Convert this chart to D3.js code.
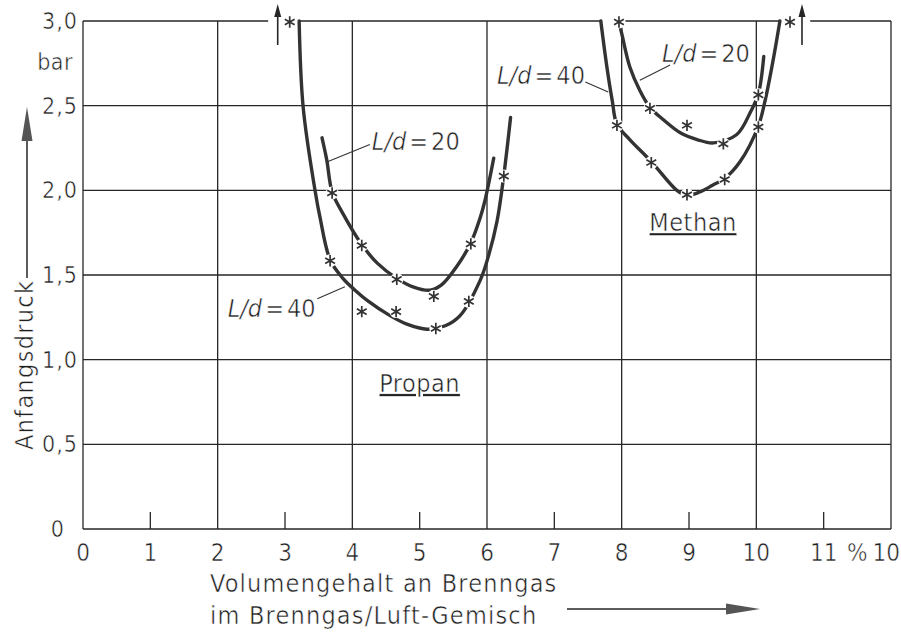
<!DOCTYPE html>
<html>
<head>
<meta charset="utf-8">
<script src="https://cdn.jsdelivr.net/npm/d3@7"></script>
<style>
  body { margin: 0; background: #fff; }
  text { font-family: "DejaVu Sans Condensed", "DejaVu Sans", sans-serif; fill: #1e1e1e;
         stroke: #fff; stroke-width: 0.5px; }
  .grid line, .frame line { stroke: #262626; stroke-width: 1.3; }
  .curve { fill: none; stroke: #333; stroke-width: 3.4; stroke-linecap: round; }
  .star { fill: none; stroke: #333; stroke-width: 1.7; }
  .leader { stroke: #333; stroke-width: 1.1; }
</style>
</head>
<body>
<div id="chart"></div>
<script>
// x: Volumengehalt an Brenngas (%), y: Anfangsdruck (bar)
var xTicks = [0,1,2,3,4,5,6,7,8,9,10,11,12];
var xTickLabels = ["0","1","2","3","4","5","6","7","8","9","10","11","10"];
var xGrid = [2,4,6,8,10];
var xMinor = [1,3,5,7,9,11];
var yTicks = [0,0.5,1,1.5,2,2.5,3];
var yTickLabels = ["0","0,5","1,0","1,5","2,0","2,5","3,0"];
var yGrid = [0.5,1,1.5,2,2.5];

// curves
var propan40 = [[3.21,3.0],[3.27,2.49],[3.45,1.99],[3.52,1.84],[3.67,1.59],[3.86,1.48],[4.04,1.41],
                [4.22,1.35],[4.56,1.26],[4.81,1.21],[5.11,1.18],[5.38,1.20],[5.60,1.26],[5.90,1.47],
                [6.02,1.61],[6.15,1.82],[6.25,2.09],[6.35,2.43]];
var propan20 = [[3.55,2.31],[3.62,2.18],[3.70,1.99],[3.85,1.87],[4.14,1.68],[4.37,1.57],[4.66,1.48],
                [4.90,1.43],[5.15,1.41],[5.32,1.44],[5.55,1.55],[5.76,1.69],[5.90,1.84],[5.97,1.94],[6.10,2.19]];
var methan40 = [[7.69,3.0],[7.78,2.73],[7.86,2.53],[7.93,2.39],[8.12,2.30],[8.44,2.17],[8.82,2.00],
                [8.97,1.97],[9.16,1.99],[9.35,2.03],[9.53,2.07],[9.76,2.17],[10.03,2.38],[10.13,2.53],
                [10.25,2.77],[10.35,3.0]];
var methan20 = [[7.97,2.98],[8.01,2.91],[8.12,2.73],[8.27,2.59],[8.42,2.49],[8.61,2.42],[8.87,2.34],
                [9.12,2.30],[9.36,2.28],[9.71,2.33],[9.91,2.46],[10.03,2.57],[10.11,2.79]];

// measured points (asterisks)
var propan40Pts = [[3.67,1.59],[4.14,1.29],[4.65,1.29],[5.24,1.19],[5.73,1.35],[6.25,2.09]];
var propan20Pts = [[3.70,1.99],[4.14,1.68],[4.66,1.48],[5.21,1.38],[5.76,1.69]];
var methan40Pts = [[7.93,2.39],[8.44,2.17],[8.97,1.98],[9.53,2.07],[10.03,2.38]];
var methan20Pts = [[7.96,3.0],[8.42,2.49],[8.97,2.39],[9.51,2.28],[10.03,2.57]];
// points above 3 bar, marked with an arrow
var offScale = [{x: 3.07, side: -1}, {x: 10.50, side: 1}];

var W = 901, H = 632;
var x = d3.scaleLinear().domain([0, 12]).range([83, 891]);
var y = d3.scaleLinear().domain([0, 3]).range([529, 21]);

var svg = d3.select("#chart").append("svg")
    .attr("width", W).attr("height", H);
svg.append("rect").attr("width", W).attr("height", H).attr("fill", "#fff");

// grid
var grid = svg.append("g").attr("class", "grid");
grid.selectAll(".v").data(xGrid).enter().append("line")
    .attr("x1", d => x(d)).attr("x2", d => x(d))
    .attr("y1", y(0)).attr("y2", y(3));
grid.selectAll(".h").data(yGrid).enter().append("line")
    .attr("x1", x(0)).attr("x2", x(12))
    .attr("y1", d => y(d)).attr("y2", d => y(d));
grid.selectAll(".m").data(xMinor).enter().append("line")
    .attr("x1", d => x(d)).attr("x2", d => x(d))
    .attr("y1", y(0)).attr("y2", y(0) - 17);

// frame, top edge broken where the curves leave the chart
var topGaps = [[2.75, 3.21], [7.71, 8.05], [10.35, 10.80]];
var topSegs = [];
var s = 0;
topGaps.forEach(g => { topSegs.push([s, g[0]]); s = g[1]; });
topSegs.push([s, 12]);
var frame = svg.append("g").attr("class", "frame");
frame.append("line").attr("x1", x(0)).attr("x2", x(0)).attr("y1", y(0)).attr("y2", y(3));
frame.append("line").attr("x1", x(12)).attr("x2", x(12)).attr("y1", y(0)).attr("y2", y(3));
frame.append("line").attr("x1", x(0)).attr("x2", x(12)).attr("y1", y(0)).attr("y2", y(0));
frame.selectAll(".t").data(topSegs).enter().append("line")
    .attr("x1", d => x(d[0])).attr("x2", d => x(d[1]))
    .attr("y1", y(3)).attr("y2", y(3));

// curves
var line = d3.line()
    .x(d => x(d[0])).y(d => y(d[1]))
    .curve(d3.curveCatmullRom.alpha(0.5));
[propan40, propan20, methan40, methan20].forEach(c => {
  svg.append("path").attr("class", "curve").attr("d", line(c));
});

// asterisks with a small white gap in the line
var star = d3.symbol().type(d3.symbolAsterisk).size(90);
var allPts = propan40Pts.concat(propan20Pts, methan40Pts, methan20Pts,
                                offScale.map(o => [o.x, 3.0]));
svg.append("g").selectAll("circle").data(allPts).enter().append("circle")
    .attr("cx", d => x(d[0])).attr("cy", d => y(d[1]) + 1).attr("r", 6.5)
    .attr("fill", "#fff");
svg.append("g").selectAll("path").data(allPts).enter().append("path")
    .attr("class", "star")
    .attr("transform", d => "translate(" + x(d[0]) + "," + (y(d[1]) + 1) + ")")
    .attr("d", star);

// up arrows for values above the scale
offScale.forEach(o => {
  var ax = x(o.x) + o.side * 12;
  svg.append("line").attr("x1", ax).attr("x2", ax).attr("y1", 45).attr("y2", 12)
      .attr("stroke", "#262626").attr("stroke-width", 1.6);
  svg.append("path")
      .attr("d", "M" + ax + ",4 L" + (ax - 3.5) + ",17 L" + (ax + 3.5) + ",17 Z")
      .attr("fill", "#262626");
});

// labels L/d with leaders
var ldLabels = [
  {x: 4.29, y: 2.24, v: "20", lx1: 4.26, ly1: 2.27, lx2: 3.64, ly2: 2.17},
  {x: 2.15, y: 1.25, v: "40", lx1: 3.48, ly1: 1.36, lx2: 3.89, ly2: 1.43},
  {x: 6.15, y: 2.63, v: "40", lx1: 7.46, ly1: 2.64, lx2: 7.80, ly2: 2.58},
  {x: 8.60, y: 2.76, v: "20", lx1: 8.72, ly1: 2.74, lx2: 8.27, ly2: 2.65}
];
ldLabels.forEach(l => {
  var t = svg.append("text").attr("x", x(l.x)).attr("y", y(l.y))
      .style("font-size", "25px");
  t.append("tspan").style("font-style", "italic").text("L/d");
  t.append("tspan").attr("dx", 3).text("=");
  t.append("tspan").attr("dx", 3).text(l.v);
  svg.append("line").attr("class", "leader")
      .attr("x1", x(l.lx1)).attr("y1", y(l.ly1))
      .attr("x2", x(l.lx2)).attr("y2", y(l.ly2));
});

// gas names, underlined
var names = [{t: "Propan", x: 5.0, y: 0.81}, {t: "Methan", x: 9.06, y: 1.76}];
names.forEach(n => {
  svg.append("text").attr("x", x(n.x)).attr("y", y(n.y))
      .attr("text-anchor", "middle")
      .style("font-size", "25px")
      .style("letter-spacing", "0.5px")
      .style("text-decoration", "underline")
      .text(n.t);
});

// tick labels
svg.append("g").selectAll("text").data(xTicks).enter().append("text")
    .attr("x", d => d === 12 ? 900 : x(d))
    .attr("y", 561)
    .attr("text-anchor", d => d === 12 ? "end" : "middle")
    .style("font-size", "24px")
    .text((d, i) => xTickLabels[i]);
svg.append("text").attr("x", x(11.5)).attr("y", 561)
    .attr("text-anchor", "middle").style("font-size", "24px").text("%");

svg.append("g").selectAll("text").data(yTicks).enter().append("text")
    .attr("x", d => d === 0 ? 65 : 78)
    .attr("y", d => y(d) + 8)
    .attr("text-anchor", "end")
    .style("font-size", "23px")
    .style("letter-spacing", "1px")
    .text((d, i) => yTickLabels[i]);
svg.append("text").attr("x", 73).attr("y", 70).attr("text-anchor", "end")
    .style("font-size", "23px").style("letter-spacing", "0.5px").text("bar");

// axis titles
svg.append("text").attr("x", 210).attr("y", 592).style("font-size", "25px")
    .style("letter-spacing", "1.2px")
    .text("Volumengehalt an Brenngas");
svg.append("text").attr("x", 210).attr("y", 624).style("font-size", "25px")
    .style("letter-spacing", "1.2px")
    .text("im Brenngas/Luft-Gemisch");
svg.append("line").attr("x1", 567).attr("x2", 735).attr("y1", 609).attr("y2", 609)
    .attr("stroke", "#262626").attr("stroke-width", 1.5);
svg.append("path").attr("d", "M760,609 L726,603.5 L726,614.5 Z").attr("fill", "#555");

svg.append("text").attr("transform", "translate(33,450) rotate(-90)")
    .style("font-size", "25px").style("letter-spacing", "1.3px").text("Anfangsdruck");
svg.append("line").attr("x1", 27).attr("x2", 27).attr("y1", 278).attr("y2", 135)
    .attr("stroke", "#262626").attr("stroke-width", 1.5);
svg.append("path").attr("d", "M27,107 L21.5,141 L32.5,141 Z").attr("fill", "#555");
</script>
</body>
</html>
